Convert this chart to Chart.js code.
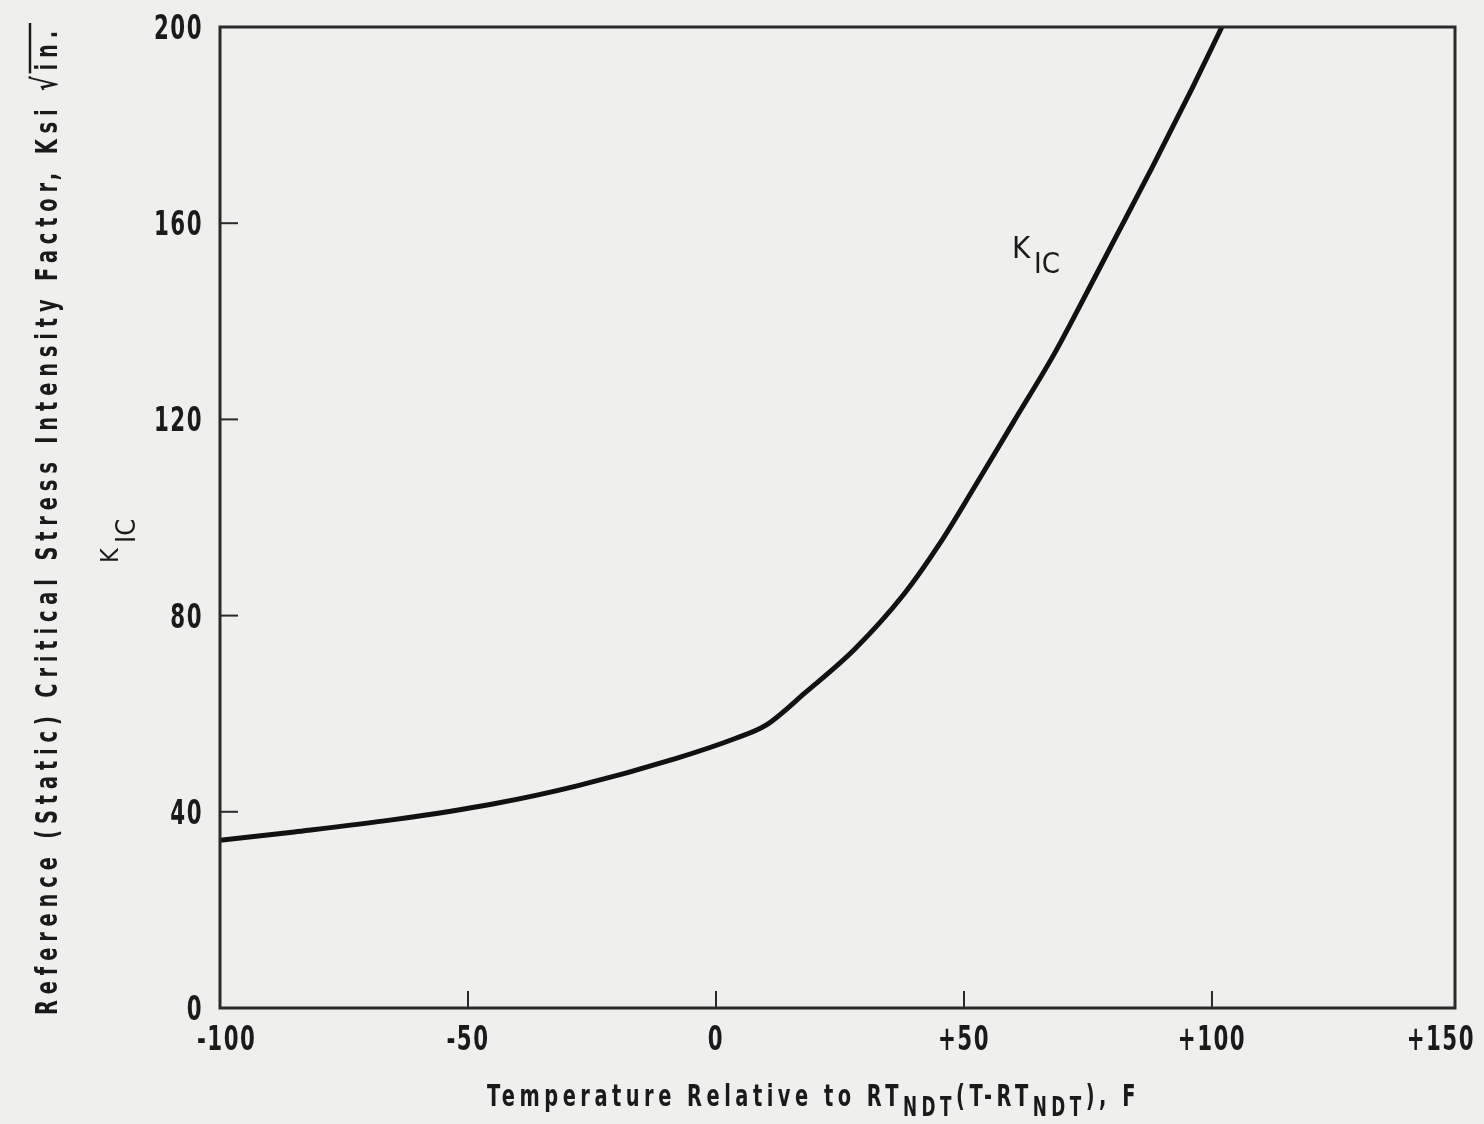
<!DOCTYPE html>
<html>
<head>
<meta charset="utf-8">
<script src="https://cdn.jsdelivr.net/npm/chart.js@4.4.0/dist/chart.umd.min.js"></script>
<style>
  html, body { margin: 0; padding: 0; background: #efefed; }
  #wrap { width: 1484px; height: 1124px; }
</style>
</head>
<body>
<div id="wrap"><canvas id="kicChart" width="1484" height="1124"></canvas></div>
<script>
// Temperature relative to RT_NDT (F) and K_IC (ksi sqrt in.)
const tempRel = [-100, -85, -65, -45, -28, -8, 4, 10, 18, 28, 38, 45, 52, 60, 68, 72, 80, 88, 96, 102];
const kicValues = [34.2, 35.9, 38.4, 41.6, 45.3, 50.9, 55.0, 57.6, 64.3, 73.2, 84.5, 94.5, 106.0, 119.5, 133.0, 140.5, 156.0, 171.5, 187.5, 200];
const xTickValues = [-100, -50, 0, 50, 100, 150];
const yTickValues = [0, 40, 80, 120, 160, 200];

const FONT = "'DejaVu Sans Condensed', 'DejaVu Sans', sans-serif";
const INK = '#1a1a1a';
const SQUEEZE = 0.72; // the scanned lettering is tall and narrow

// draws a row of text pieces (with subscripts), squeezed horizontally and
// spread with letter spacing to a target length
function drawRuns(ctx, runs, x, y, target, hs) {
    hs = hs || 1;
    ctx.save();
    ctx.translate(x, y);
    ctx.scale(hs, 1);
    ctx.letterSpacing = '0px';
    let w = 0, n = 0;
    runs.forEach(r => { ctx.font = r.font; w += ctx.measureText(r.text).width; n += r.text.length; });
    const sp = target ? (target / hs - w) / n : 0;
    ctx.letterSpacing = sp + 'px';
    let cx = 0;
    const pos = [];
    runs.forEach(r => {
        ctx.font = r.font;
        ctx.fillText(r.text, cx, r.dy || 0);
        const rw = ctx.measureText(r.text).width;
        pos.push([cx * hs, (cx + rw) * hs]);
        cx += rw;
    });
    ctx.letterSpacing = '0px';
    ctx.restore();
    return pos;
}

function tickText(ctx, text, x, y, align, minX, maxX) {
    ctx.save();
    ctx.font = 'bold 33px ' + FONT;
    ctx.letterSpacing = '2px';
    const w = ctx.measureText(text).width * SQUEEZE;
    let left = align === 'right' ? x - w : x - w / 2;
    if (minX !== undefined) left = Math.max(minX, Math.min(maxX - w, left));
    ctx.translate(left, y);
    ctx.scale(SQUEEZE, 1);
    ctx.textAlign = 'left';
    ctx.fillText(text, 0, 0);
    ctx.restore();
}

const framePlugin = {
    id: 'frameAndText',
    afterDraw(chart) {
        const { ctx, chartArea: { left, right, top, bottom }, scales: { x, y } } = chart;
        ctx.save();
        // frame
        ctx.strokeStyle = '#2a2a2a';
        ctx.lineWidth = 3;
        ctx.strokeRect(left, top, right - left, bottom - top);

        // inward tick marks
        ctx.lineWidth = 2;
        xTickValues.slice(1, -1).forEach(v => {
            const px = x.getPixelForValue(v);
            ctx.beginPath(); ctx.moveTo(px, bottom); ctx.lineTo(px, bottom - 17); ctx.stroke();
        });
        yTickValues.slice(1, -1).forEach(v => {
            const py = y.getPixelForValue(v);
            ctx.beginPath(); ctx.moveTo(left, py); ctx.lineTo(left + 18, py); ctx.stroke();
        });

        ctx.fillStyle = INK;
        ctx.textBaseline = 'alphabetic';
        ctx.textAlign = 'left';

        // tick labels, placed from the scales
        x.ticks.forEach(t => {
            const label = t.value > 0 ? '+' + t.value : String(t.value);
            tickText(ctx, label, x.getPixelForValue(t.value), bottom + 42, 'center', 197, 1475);
        });
        y.ticks.forEach(t => {
            tickText(ctx, String(t.value), left - 17, y.getPixelForValue(t.value) + 12, 'right');
        });

        // x axis title
        drawRuns(ctx, [
            { text: 'Temperature Relative to RT', font: 'bold 30px ' + FONT },
            { text: 'NDT', font: 'bold 26px ' + FONT, dy: 10 },
            { text: '(T-RT', font: 'bold 30px ' + FONT },
            { text: 'NDT', font: 'bold 26px ' + FONT, dy: 10 },
            { text: '), F', font: 'bold 30px ' + FONT }
        ], 487, 1106, 653, SQUEEZE);

        // y axis title, rotated
        ctx.save();
        ctx.translate(57, 1015);
        ctx.rotate(-Math.PI / 2);
        const pos = drawRuns(ctx, [
            { text: 'Reference (Static) Critical Stress Intensity Factor, Ksi ', font: 'bold 30px ' + FONT },
            { text: '\u221A', font: 'bold 34px ' + FONT },
            { text: 'in.', font: 'bold 30px ' + FONT }
        ], 0, 0, 990, SQUEEZE);
        ctx.lineWidth = 2.5;
        ctx.strokeStyle = INK;
        ctx.beginPath();
        ctx.moveTo(pos[1][1] - 3, -27);
        ctx.lineTo(pos[2][1] + 2, -27);
        ctx.stroke();
        ctx.restore();

        // K_IC label beside the y axis
        ctx.save();
        ctx.translate(118, 563);
        ctx.rotate(-Math.PI / 2);
        ctx.font = '25px ' + FONT;
        ctx.fillText('K', 0, 0);
        ctx.font = '27px ' + FONT;
        ctx.fillText('IC', 20, 17);
        ctx.restore();

        // K_IC label on the curve
        ctx.font = '31px ' + FONT;
        ctx.fillText('K', 1012, 258);
        ctx.font = '29px ' + FONT;
        ctx.fillText('IC', 1034, 273);
        ctx.restore();
    }
};

const ctx = document.getElementById('kicChart').getContext('2d');
new Chart(ctx, {
    type: 'line',
    data: {
        datasets: [{
            label: 'KIC',
            data: tempRel.map((t, i) => ({ x: t, y: kicValues[i] })),
            borderColor: '#111',
            borderWidth: 5,
            pointRadius: 0,
            cubicInterpolationMode: 'monotone',
            fill: false
        }]
    },
    options: {
        responsive: false,
        animation: false,
        layout: { padding: { top: 27, right: 29, bottom: 0, left: 0 } },
        plugins: { legend: { display: false }, tooltip: { enabled: false } },
        scales: {
            x: {
                type: 'linear',
                min: -100,
                max: 149, // the scanned frame closes just short of +150
                afterBuildTicks: s => { s.ticks = xTickValues.map(v => ({ value: v })); },
                afterFit: s => { s.height = 116; s.paddingLeft = 0; s.paddingRight = 0; },
                grid: { display: false },
                border: { display: false },
                ticks: { display: false }
            },
            y: {
                type: 'linear',
                min: 0,
                max: 200,
                afterBuildTicks: s => { s.ticks = yTickValues.map(v => ({ value: v })); },
                afterFit: s => { s.width = 220; s.paddingTop = 0; s.paddingBottom = 0; },
                grid: { display: false },
                border: { display: false },
                ticks: { display: false }
            }
        }
    },
    plugins: [framePlugin]
});
</script>
</body>
</html>
